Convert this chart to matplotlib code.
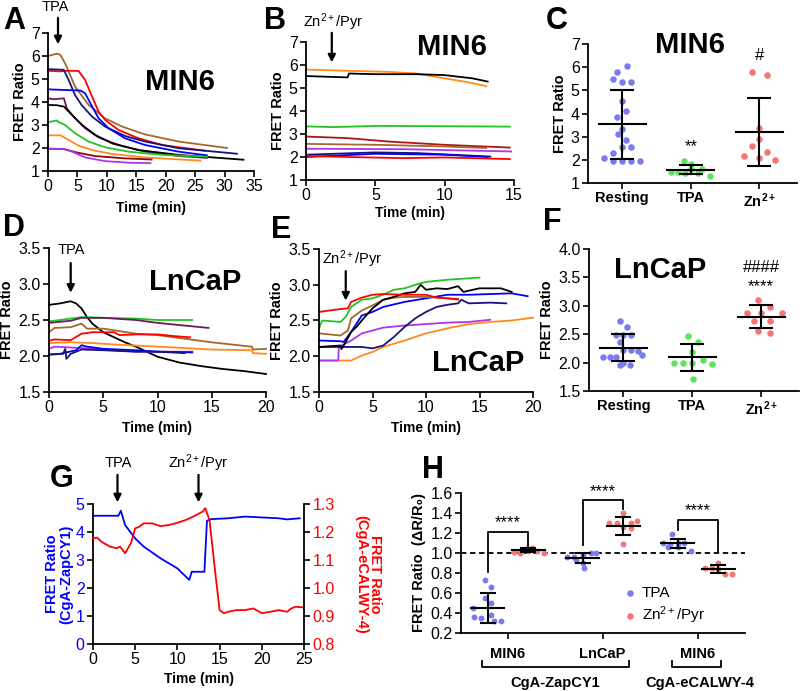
import numpy as np
import matplotlib
matplotlib.use('Agg')
import matplotlib.pyplot as plt

plt.rcParams['font.family'] = ['Liberation Sans', 'DejaVu Sans']
plt.rcParams['mathtext.fontset'] = 'custom'
plt.rcParams['mathtext.rm'] = 'Liberation Sans'
plt.rcParams['mathtext.bf'] = 'Liberation Sans:bold'
plt.rcParams['mathtext.it'] = 'Liberation Sans:italic'

W, H = 800, 691

# ---------------- data ----------------
# panel A: MIN6, TPA  (time min, FRET ratio)
a_brown = [[0, 6.0], [1.5, 6.1], [2.1, 6.05], [2.9, 5.68], [4.6, 4.67], [6.9, 3.87], [9.7, 3.29],
           [12.6, 2.93], [16.5, 2.59], [22.2, 2.28], [30.4, 2.0]]
a_red = [[0, 5.36], [2, 5.33], [3.5, 5.36], [5.2, 5.35], [6.3, 4.96], [7.5, 4.23], [8.6, 3.58],
         [9.7, 3.22], [12.0, 2.78], [15.4, 2.42], [19.4, 2.13], [26.7, 1.88]]
a_navy = [[0, 5.43], [2.7, 5.4], [3.5, 4.96], [4.6, 4.3], [5.7, 3.87], [7.5, 3.36], [9.7, 2.93],
          [13.1, 2.52], [16.5, 2.28], [22.2, 1.99], [32.1, 1.75]]
a_blue = [[0, 4.55], [3, 4.52], [5.5, 4.5], [6.3, 4.38], [7.5, 3.8], [8.6, 3.29], [10.3, 2.86],
          [13.1, 2.42], [16.5, 2.13], [22.2, 1.84], [27.0, 1.68]]
a_plum = [[0, 4.16], [1, 4.12], [2.7, 4.16], [3.2, 3.72], [4.6, 3.29], [6.3, 2.86], [8.6, 2.46],
          [12.0, 2.13], [16.5, 1.84], [22.2, 1.65], [27.0, 1.57]]
a_black = [[0, 3.87], [1.5, 3.86], [2.7, 3.8], [4.1, 3.43], [5.8, 3.0], [8.0, 2.57], [10.9, 2.2],
           [15.4, 1.91], [22.2, 1.7], [33.2, 1.49]]
a_green = [[0, 3.12], [1.5, 3.2], [1.8, 3.13], [2.9, 3.0], [4.6, 2.64], [6.9, 2.28], [9.7, 2.03],
           [13.7, 1.84], [19.4, 1.7], [27.0, 1.62]]
a_orange = [[0, 2.55], [2.1, 2.55], [3.5, 2.35], [5.2, 2.1], [7.5, 1.91], [10.9, 1.74],
            [16.5, 1.59], [25.9, 1.45]]
a_darkred = [[0, 1.97], [2.7, 1.95], [5.0, 1.8], [8.0, 1.65], [13.0, 1.55], [17.6, 1.5]]
a_purple = [[0, 1.97], [2.7, 1.96], [4.1, 1.84], [6.3, 1.59], [9.7, 1.43], [13.7, 1.36], [17.4, 1.34]]

# panel B: MIN6, Zn2+/Pyr
b_orange = [[0, 5.8], [3, 5.75], [6, 5.7], [8, 5.63], [9, 5.52], [10, 5.42], [11.5, 5.27], [13, 5.08]]
b_black = [[0, 5.52], [3, 5.46], [3.1, 5.63], [5, 5.6], [8, 5.6], [10, 5.56], [12, 5.42], [13.1, 5.28]]
b_green = [[0, 3.33], [2, 3.3], [5, 3.35], [10, 3.34], [14.7, 3.32]]
b_darkred = [[0, 2.89], [3, 2.82], [6, 2.67], [10, 2.53], [14.7, 2.41]]
b_brown = [[0, 2.57], [5, 2.53], [10, 2.46], [13, 2.39]]
b_purple = [[0, 2.36], [7, 2.34], [14.8, 2.24]]
b_navy = [[0, 2.1], [5, 2.2], [8, 2.17], [13.3, 2.02]]
b_blue = [[0, 2.0], [5, 2.14], [10, 2.1], [13.1, 2.0]]
b_red = [[0, 2.05], [3, 2.0], [7, 1.95], [10, 1.98], [14.7, 1.91]]

# panel C: MIN6 summary
c_rest_dx = [0.07, -0.07, -0.135, 0, 0.125, 0, 0.06, -0.07, 0, -0.065, 0.06, 0, 0.125, -0.135, -0.265, -0.135, 0, 0.125, 0.26]
c_rest_y = [6.03, 5.77, 5.49, 5.38, 5.34, 4.53, 4.12, 3.83, 3.31, 3.11, 2.85, 2.56, 2.56, 2.31, 2.08, 1.95, 1.95, 1.95, 1.94]
c_tpa_dx = [-0.1, 0, -0.29, -0.19, -0.08, 0.1, 0.17, 0.28, 0.0]
c_tpa_y = [1.94, 1.84, 1.48, 1.48, 1.43, 1.45, 1.62, 1.3, 1.62]
c_zn_dx = [-0.105, 0.11, 0, 0, -0.105, -0.22, 0.11, 0, 0.23]
c_zn_y = [5.81, 5.67, 3.36, 2.88, 2.59, 2.18, 2.34, 2.08, 1.98]
c_mean = [3.53, 1.58, 3.21]
c_sd = [1.49, 0.21, 1.48]

# panel D: LnCaP, TPA
d_black = [[0, 2.71], [1, 2.73], [2, 2.76], [2.5, 2.73], [3, 2.66], [3.5, 2.54], [4, 2.45], [5, 2.33],
           [6, 2.26], [7, 2.19], [8, 2.13], [9, 2.06], [10, 1.99], [12, 1.91], [14, 1.86], [16, 1.82],
           [18, 1.79], [20, 1.75]]
d_green = [[0, 2.48], [2, 2.52], [3, 2.54], [5, 2.53], [8, 2.52], [10, 2.5], [13.2, 2.5]]
d_plum = [[0, 2.46], [2, 2.49], [3, 2.53], [5, 2.53], [8, 2.5], [10, 2.46], [12, 2.43], [14.7, 2.39]]
d_brown = [[0, 2.33], [0.5, 2.39], [2, 2.4], [3, 2.45], [3.5, 2.38], [5, 2.38], [8, 2.31], [10, 2.29],
           [12, 2.25], [15, 2.19], [18, 2.14], [18.7, 2.13], [18.8, 2.09], [20, 2.1]]
d_red = [[0, 2.21], [0.5, 2.23], [2, 2.22], [3, 2.31], [4, 2.33], [6, 2.33], [6.5, 2.29], [8, 2.3],
         [10, 2.3], [12, 2.27], [13, 2.26]]
d_orange = [[0, 2.18], [2, 2.19], [4, 2.18], [6, 2.16], [10, 2.13], [15, 2.09], [18.7, 2.08],
            [18.8, 2.04], [20, 2.03]]
d_purple = [[0, 2.1], [0.5, 2.13], [3, 2.11], [5, 2.09], [8, 2.06], [10, 2.06], [13.2, 2.06]]
d_blue = [[0, 2.02], [1, 2.03], [2.5, 2.08], [3, 2.15], [3.5, 2.13], [5, 2.1], [8, 2.08], [10, 2.06], [13.2, 2.05]]
d_navy = [[0, 2.02], [1.3, 2.03], [1.5, 2.1], [1.6, 1.96], [2, 2.03], [3, 2.09], [5, 2.08], [8, 2.06],
          [10, 2.06], [12.5, 2.04]]

# panel E: LnCaP, Zn2+/Pyr
e_red = [[0, 2.62], [2, 2.66], [2.7, 2.67], [3, 2.76], [4, 2.82], [5, 2.86], [6, 2.87], [8, 2.86],
         [10, 2.86], [11, 2.82], [12, 2.81], [13, 2.8]]
e_green = [[0, 2.39], [0.3, 2.5], [2, 2.48], [2.5, 2.55], [3, 2.69], [4, 2.79], [5, 2.81], [6, 2.86],
           [7, 2.93], [8, 2.95], [9, 3.0], [10, 3.04], [12, 3.07], [14, 3.09], [15, 3.1]]
e_black = [[0, 2.13], [2, 2.15], [2.1, 2.1], [2.5, 2.2], [3, 2.34], [3.5, 2.41], [4, 2.5], [5, 2.67],
           [6, 2.79], [7, 2.83], [8, 2.88], [9, 2.9], [9.5, 3.0], [10, 2.93], [11, 2.95], [12, 2.94],
           [13, 2.98], [13.5, 2.9], [15, 2.95], [17, 2.95], [18, 2.9]]
e_brown = [[0, 2.32], [2, 2.29], [2.7, 2.36], [3, 2.53], [4, 2.64], [5, 2.71], [6, 2.79], [7, 2.82],
           [8, 2.83], [10, 2.83], [12, 2.81], [13, 2.79]]
e_blue = [[0, 2.22], [2, 2.21], [2.3, 2.2], [3, 2.34], [4, 2.57], [5, 2.62], [6, 2.69], [8, 2.76],
          [10, 2.81], [12, 2.86], [14, 2.86], [16, 2.87], [18, 2.88], [19.5, 2.84]]
e_navy = [[0, 2.13], [2, 2.13], [4, 2.13], [5, 2.11], [6, 2.15], [7, 2.27], [8, 2.41], [9, 2.53],
          [10, 2.62], [11, 2.69], [12, 2.72], [13, 2.74], [13.3, 2.79], [14, 2.74], [16, 2.75], [17.5, 2.74]]
e_purple = [[0, 1.94], [1.8, 1.94], [1.85, 2.13], [3, 2.22], [4, 2.32], [5, 2.36], [6, 2.4], [8, 2.43],
            [10, 2.45], [12, 2.47], [14, 2.48], [16, 2.51]]
e_orange = [[0, 1.94], [3, 1.94], [4, 2.01], [5, 2.06], [6, 2.13], [8, 2.22], [10, 2.32], [12, 2.39],
            [14, 2.45], [16, 2.48], [18, 2.5], [20, 2.54]]

# panel F: LnCaP summary
f_rest_dx = [-0.05, 0.045, -0.105, 0, 0.105, -0.05, 0, 0.105, 0.21, 0.275, -0.295, -0.2, -0.105, 0, -0.05, 0.09]
f_rest_y = [2.73, 2.63, 2.48, 2.48, 2.48, 2.37, 2.22, 2.22, 2.21, 2.13, 2.1, 2.1, 2.1, 2.0, 1.95, 1.95]
f_tpa_dx = [-0.06, 0.08, 0, -0.27, -0.13, 0, 0.155, 0.28, 0.015]
f_tpa_y = [2.47, 2.37, 2.18, 2.0, 2.0, 2.0, 2.04, 1.98, 1.71]
f_zn_dx = [-0.04, -0.21, 0, 0.13, 0.3, -0.1, 0.13, -0.04, 0.13]
f_zn_y = [3.1, 2.88, 2.87, 2.98, 2.88, 2.74, 2.74, 2.56, 2.52]
f_mean = [2.26, 2.09, 2.81]
f_sd = [0.235, 0.23, 0.2]

# panel G: dual sensor trace
g_blue = [[0, 4.58], [3, 4.58], [3.3, 4.76], [3.8, 4.25], [5, 3.77], [6, 3.48], [8, 3.06], [10, 2.7],
          [11.4, 2.29], [11.7, 2.58], [13.2, 2.58], [13.5, 4.4], [14, 4.46], [16, 4.49], [18, 4.55],
          [20, 4.52], [22, 4.49], [23, 4.45], [24.5, 4.49]]
g_red = [[0, 1.177], [0.5, 1.18], [1, 1.165], [2, 1.148], [2.8, 1.142], [3.2, 1.148], [3.8, 1.124],
         [4.5, 1.16], [5, 1.213], [5.5, 1.219], [6, 1.231], [7, 1.231], [8, 1.221], [9, 1.225],
         [10, 1.233], [11, 1.243], [12, 1.257], [13, 1.273], [13.3, 1.285], [13.8, 1.243],
         [14.5, 1.052], [15, 0.921], [15.5, 0.91], [16, 0.915], [17, 0.921], [18, 0.921], [19, 0.927],
         [20, 0.91], [21, 0.915], [22, 0.921], [23, 0.915], [23.5, 0.927], [24, 0.933], [24.8, 0.931]]

# panel H: normalised response
h_groups = ['MIN6', 'LnCaP', 'MIN6']
h_tpa_dx = [[-0.025, 0.035, -0.025, 0.035, -0.15, -0.14, -0.07, 0.035, 0.065, 0.14],
            [-0.16, -0.09, 0, 0.09, 0.14, -0.07, 0, 0.02],
            [-0.06, -0.15, -0.08, 0, 0.07, 0, 0.14, -0.1]]
h_tpa_y = [[0.73, 0.66, 0.55, 0.5, 0.45, 0.36, 0.35, 0.38, 0.32, 0.32],
           [0.96, 0.96, 0.98, 1.0, 1.0, 0.93, 0.9, 0.85],
           [1.19, 1.1, 1.09, 1.1, 1.1, 1.06, 1.02, 1.06]]
h_zn_dx = [[-0.15, -0.09, -0.025, 0.035, 0.095, 0.16, -0.09, 0],
           [0, -0.15, -0.07, 0.08, 0.14, 0, 0.08, 0],
           [0, -0.14, -0.07, 0, 0.07, 0.14]]
h_zn_y = [[1.01, 1.02, 1.04, 1.05, 1.02, 1.0, 1.0, 1.02],
          [1.4, 1.3, 1.3, 1.3, 1.32, 1.26, 1.25, 1.09],
          [0.9, 0.85, 0.85, 0.84, 0.79, 0.79]]
h_tpa_mean = [0.45, 0.95, 1.10]
h_tpa_sd = [0.15, 0.05, 0.045]
h_zn_mean = [1.03, 1.27, 0.84]
h_zn_sd = [0.02, 0.09, 0.04]

# ---------------- drawing ----------------
BROWN = '#a5682a'
NAVY = '#15157a'
PLUM = '#6a1b5c'
GREEN = '#22c322'
ORANGE = '#ff8a1c'
PURPLE = '#b035ea'
DARKRED = '#8b0a0a'
C_REST = '#7b7bf0'
C_TPA = '#5fe35f'
C_ZN = '#f27676'

fig = plt.figure(figsize=(W / 100, H / 100), dpi=100)


def box(l, t, r, b):
    return fig.add_axes([l / W, 1 - b / H, (r - l) / W, (b - t) / H])


def style(ax):
    for s in ['top', 'right']:
        ax.spines[s].set_visible(False)
    for s in ['left', 'bottom']:
        ax.spines[s].set_linewidth(1.3)
    ax.tick_params(direction='out', length=4, width=1.2, labelsize=11.5, pad=2)


def trace(ax, pts, color):
    arr = np.array(pts)
    ax.plot(arr[:, 0], arr[:, 1], color=color, lw=1.3, clip_on=False)


def arrow(ax, x, tip, tail, label, tx, ty):
    ax.annotate('', xy=(x, tip), xytext=(x, tail), annotation_clip=False,
                arrowprops=dict(arrowstyle='-|>', color='k', lw=1.6, mutation_scale=11))
    ax.text(tx, ty, label, ha='center', va='center', fontsize=10.5, clip_on=False)


def ftext(x, y, s, **kw):
    fig.text(x / W, 1 - y / H, s, ha='center', va='center', **kw)


def summary(ax, dxs, ys, means, sds, colors, half=0.34):
    for i in range(len(means)):
        ax.scatter(np.array(dxs[i]) + i, ys[i], s=22, color=colors[i], lw=0, zorder=2, clip_on=False)
        ax.plot([i - half, i + half], [means[i]] * 2, color='k', lw=1.5, zorder=3)
        ax.errorbar(i, means[i], yerr=sds[i], fmt='none', ecolor='k', elinewidth=1.5,
                    capsize=8.5, capthick=1.5, zorder=3)


# A
ax = box(48, 33, 254, 171)
style(ax)
for pts, col in [(a_brown, BROWN), (a_red, 'red'), (a_navy, NAVY), (a_blue, 'blue'), (a_plum, PLUM),
                 (a_black, 'k'), (a_green, GREEN), (a_orange, ORANGE), (a_darkred, DARKRED), (a_purple, PURPLE)]:
    trace(ax, pts, col)
ax.set_xlim(0, 35)
ax.set_ylim(1, 7)
ax.set_xticks(range(0, 36, 5))
ax.set_yticks(range(1, 8))
ax.set_ylabel('FRET Ratio', fontsize=10.5, fontweight='bold', labelpad=3)
ax.set_xlabel('Time (min)', fontsize=10, fontweight='bold', labelpad=5)
arrow(ax, 1.7, 6.39, 7.78, 'TPA', 1.3, 8.15)

# B
ax = box(306, 42, 514, 180)
style(ax)
for pts, col in [(b_orange, ORANGE), (b_black, 'k'), (b_green, GREEN), (b_darkred, '#b01515'),
                 (b_brown, BROWN), (b_purple, PURPLE), (b_navy, NAVY), (b_blue, 'blue'), (b_red, 'red')]:
    trace(ax, pts, col)
ax.set_xlim(0, 15)
ax.set_ylim(1, 7)
ax.set_xticks([0, 5, 10, 15])
ax.set_yticks(range(1, 8))
ax.set_ylabel('FRET Ratio', fontsize=10.5, fontweight='bold', labelpad=3)
ax.set_xlabel('Time (min)', fontsize=10, fontweight='bold', labelpad=2)
arrow(ax, 1.86, 5.99, 7.52, r'Zn$^{2+}$/Pyr', 2.0, 7.85)

# C
ax = box(588, 44, 797, 183)
style(ax)
summary(ax, [c_rest_dx, c_tpa_dx, c_zn_dx], [c_rest_y, c_tpa_y, c_zn_y], c_mean, c_sd,
        [C_REST, C_TPA, C_ZN])
ax.set_xlim(-0.5, 2.55)
ax.set_ylim(1, 7)
ax.set_yticks(range(1, 8))
ax.set_xticks([0, 1, 2])
ax.set_xticklabels(['Resting', 'TPA', r'$\mathbf{Zn^{2+}}$'], fontsize=10.5, fontweight='bold')
ax.set_ylabel('FRET Ratio', fontsize=10.5, fontweight='bold', labelpad=3)
ax.text(1, 2.55, '**', ha='center', va='center', fontsize=12)
ax.text(2, 6.5, '#', ha='center', va='center', fontsize=12)

# D
ax = box(49, 248, 266, 392)
style(ax)
for pts, col in [(d_black, 'k'), (d_green, GREEN), (d_plum, PLUM), (d_brown, BROWN), (d_red, 'red'),
                 (d_orange, ORANGE), (d_purple, PURPLE), (d_blue, 'blue'), (d_navy, NAVY)]:
    trace(ax, pts, col)
ax.set_xlim(0, 20)
ax.set_ylim(1.5, 3.5)
ax.set_xticks([0, 5, 10, 15, 20])
ax.set_yticks([1.5, 2.0, 2.5, 3.0, 3.5])
ax.set_yticklabels(['1.5', '2.0', '2.5', '3.0', '3.5'])
ax.set_ylabel('FRET Ratio', fontsize=10.5, fontweight='bold', labelpad=3)
ax.set_xlabel('Time (min)', fontsize=10, fontweight='bold', labelpad=4)
arrow(ax, 2.0, 2.84, 3.33, 'TPA', 2.1, 3.47)

# E
ax = box(319, 249, 533, 392)
style(ax)
for pts, col in [(e_orange, ORANGE), (e_purple, PURPLE), (e_navy, NAVY), (e_blue, 'blue'),
                 (e_brown, BROWN), (e_black, 'k'), (e_green, GREEN), (e_red, 'red')]:
    trace(ax, pts, col)
ax.set_xlim(0, 20)
ax.set_ylim(1.5, 3.5)
ax.set_xticks([0, 5, 10, 15, 20])
ax.set_yticks([1.5, 2.0, 2.5, 3.0, 3.5])
ax.set_yticklabels(['1.5', '2.0', '2.5', '3.0', '3.5'])
ax.set_ylabel('FRET Ratio', fontsize=10.5, fontweight='bold', labelpad=3)
ax.set_xlabel('Time (min)', fontsize=10, fontweight='bold', labelpad=4)
arrow(ax, 2.5, 2.74, 3.23, r'Zn$^{2+}$/Pyr', 3.1, 3.36)

# F
ax = box(589, 249, 799, 391)
style(ax)
summary(ax, [f_rest_dx, f_tpa_dx, f_zn_dx], [f_rest_y, f_tpa_y, f_zn_y], f_mean, f_sd,
        [C_REST, C_TPA, C_ZN])
ax.set_xlim(-0.5, 2.55)
ax.set_ylim(1.5, 4.0)
ax.set_yticks([1.5, 2.0, 2.5, 3.0, 3.5, 4.0])
ax.set_yticklabels(['1.5', '2.0', '2.5', '3.0', '3.5', '4.0'])
ax.set_xticks([0, 1, 2])
ax.set_xticklabels(['Resting', 'TPA', r'$\mathbf{Zn^{2+}}$'], fontsize=10.5, fontweight='bold')
ax.set_ylabel('FRET Ratio', fontsize=10.5, fontweight='bold', labelpad=3)
ax.text(2, 3.67, '####', ha='center', va='center', fontsize=12)
ax.text(2, 3.33, '****', ha='center', va='center', fontsize=12)

# G
ax = box(93, 504, 304, 644)
style(ax)
trace(ax, g_blue, 'blue')
ax.set_xlim(0, 25)
ax.set_ylim(0, 5)
ax.set_xticks([0, 5, 10, 15, 20, 25])
ax.set_yticks(range(0, 6))
ax.tick_params(axis='y', labelcolor='blue')
ax.set_ylabel('FRET Ratio\n(CgA-ZapCY1)', fontsize=10.5, fontweight='bold', color='blue',
              labelpad=2, linespacing=1.0)
ax.set_xlabel('Time (min)', fontsize=10, fontweight='bold', labelpad=3)
arrow(ax, 2.9, 4.96, 6.14, 'TPA', 3.0, 6.46)
arrow(ax, 12.5, 4.96, 6.14, r'Zn$^{2+}$/Pyr', 12.5, 6.46)
ax2 = ax.twinx()
ax2.set_position(ax.get_position())
for s in ['top', 'left', 'bottom']:
    ax2.spines[s].set_visible(False)
ax2.spines['right'].set_linewidth(1.3)
ax2.tick_params(direction='out', length=4, width=1.2, labelsize=11.5, pad=2, labelcolor='red')
trace(ax2, g_red, 'red')
ax2.set_ylim(0.8, 1.3)
ax2.set_yticks([0.8, 0.9, 1.0, 1.1, 1.2, 1.3])
ax2.set_yticklabels(['0.8', '0.9', '1.0', '1.1', '1.2', '1.3'])
ax2.set_ylabel('FRET Ratio\n(CgA-eCALWY-4)', fontsize=10.5, fontweight='bold', color='red',
               rotation=-90, labelpad=34, linespacing=1.0)

# H
ax = box(461, 493, 745, 633)
style(ax)
off_t, off_z = -0.21, 0.22
for i in range(3):
    ax.scatter(np.array(h_tpa_dx[i]) + i + off_t, h_tpa_y[i], s=18, color=C_REST, lw=0, zorder=2)
    ax.scatter(np.array(h_zn_dx[i]) + i + off_z, h_zn_y[i], s=18, color=C_ZN, lw=0, zorder=2)
    for xc, m, sd in [(i + off_t, h_tpa_mean[i], h_tpa_sd[i]), (i + off_z, h_zn_mean[i], h_zn_sd[i])]:
        ax.plot([xc - 0.175, xc + 0.175], [m, m], color='k', lw=1.5, zorder=3)
        ax.errorbar(xc, m, yerr=sd, fmt='none', ecolor='k', elinewidth=1.5, capsize=6, capthick=1.5, zorder=3)
ax.axhline(1.0, color='k', lw=1.3, ls=(0, (3, 2)), zorder=1)
brackets = [(0, 0.81, 1.21, 1.06, 1.30), (1, 1.08, 1.53, 1.44, 1.61), (2, 1.23, 1.33, 1.01, 1.42)]
for i, lo_l, top, lo_r, star in brackets:
    ax.plot([i + off_t, i + off_t, i + off_z, i + off_z], [lo_l, top, top, lo_r], color='k', lw=1.3,
            clip_on=False)
    ax.text(i, star, '****', ha='center', va='center', fontsize=12, clip_on=False)
ax.set_xlim(-0.49, 2.5)
ax.set_ylim(0.2, 1.6)
yt = [0.2, 0.4, 0.6, 0.8, 1.0, 1.2, 1.4, 1.6]
ax.set_yticks(yt)
ax.set_yticklabels(['%.1f' % v for v in yt])
ax.set_xticks([0, 1, 2])
ax.set_xticklabels(h_groups, fontsize=10.5, fontweight='bold')
ax.tick_params(axis='x', pad=6)
ax.set_ylabel('FRET Ratio  (ΔR/R₀)', fontsize=10.5, fontweight='bold', labelpad=3)
h1 = ax.scatter([], [], s=22, color=C_REST, lw=0)
h2 = ax.scatter([], [], s=22, color=C_ZN, lw=0)
ax.legend([h1, h2], ['TPA', r'Zn$^{2+}$/Pyr'], loc='upper left', bbox_to_anchor=(0.535, 0.39),
          frameon=False, fontsize=11, handletextpad=0.2, labelspacing=0.3, borderpad=0, handlelength=1.2)
tr = ax.get_xaxis_transform()
for x0, x1 in [(off_t - 0.06, 1 + off_z + 0.06), (2 + off_t - 0.06, 2 + off_z + 0.03)]:
    ax.plot([x0, x0, x1, x1], [-0.2, -0.245, -0.245, -0.2], color='k', lw=1.3, transform=tr, clip_on=False)
ax.text(0.5, -0.355, 'CgA-ZapCY1', transform=tr, ha='center', va='center', fontsize=10.5, fontweight='bold')
ax.text(2.03, -0.355, 'CgA-eCALWY-4', transform=tr, ha='center', va='center', fontsize=10.5, fontweight='bold')

# titles and panel letters
for x, y, s in [(180, 82, 'MIN6'), (452, 47, 'MIN6'), (690, 45, 'MIN6'),
                (195, 282, 'LnCaP'), (478, 363, 'LnCaP'), (660, 270, 'LnCaP')]:
    ftext(x, y, s, fontsize=21, fontweight='bold')
for x, y, s in [(14, 21, 'A'), (275, 21, 'B'), (557, 21, 'C'), (14, 228, 'D'), (281, 230, 'E'),
                (552, 222, 'F'), (62, 479, 'G'), (433, 470, 'H')]:
    ftext(x, y, s, fontsize=22, fontweight='bold')

fig.savefig('out.png', dpi=100)
